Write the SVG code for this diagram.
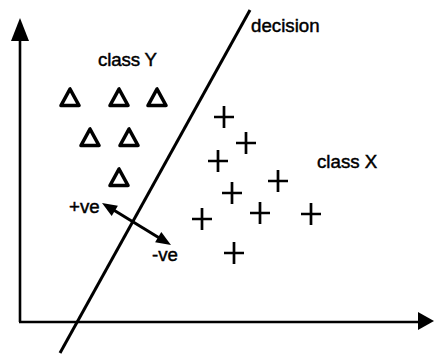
<svg xmlns="http://www.w3.org/2000/svg" width="434" height="356" viewBox="0 0 434 356">
<style>
.t{font-family:"Liberation Sans",Arial,sans-serif;font-size:18.7px;fill:#000;stroke:#000;stroke-width:0.45}
.ln{stroke:#000;fill:none}
.tri{stroke:#000;stroke-width:3.6;fill:none;stroke-linejoin:round}
.pl{stroke:#000;stroke-width:2.7;fill:none}
</style>
<defs>
<path id="tr" d="M0,-8 L-9,8.5 L9,8.5 Z"/>
<path id="pp" d="M-10,0 H10 M0,-11 V11"/>
</defs>
<rect width="434" height="356" fill="#fff"/>
<g id="axes">
<line class="ln" x1="20" y1="322" x2="20" y2="38" stroke-width="2.6"/>
<path d="M20,18 L29,41 L11,41 Z" fill="#000"/>
<line class="ln" x1="19" y1="322" x2="418" y2="322" stroke-width="2.6"/>
<path d="M434,321 L418,330 L418,312 Z" fill="#000"/>
</g>
<g id="decision">
<line class="ln" x1="250" y1="10" x2="60" y2="353" stroke-width="3"/>
<text class="t" x="251" y="32">decision</text>
</g>
<g id="classY">
<text class="t" x="98" y="66" textLength="59">class Y</text>
<use href="#tr" class="tri" x="70" y="97"/>
<use href="#tr" class="tri" x="119" y="97"/>
<use href="#tr" class="tri" x="157" y="97"/>
<use href="#tr" class="tri" x="90" y="137"/>
<use href="#tr" class="tri" x="129" y="137"/>
<use href="#tr" class="tri" x="119" y="177"/>
</g>
<g id="classX">
<text class="t" x="317" y="168">class X</text>
<use href="#pp" class="pl" x="224" y="117"/>
<use href="#pp" class="pl" x="246" y="143"/>
<use href="#pp" class="pl" x="218" y="161"/>
<use href="#pp" class="pl" x="278" y="181"/>
<use href="#pp" class="pl" x="232" y="193"/>
<use href="#pp" class="pl" x="202" y="219"/>
<use href="#pp" class="pl" x="260" y="213"/>
<use href="#pp" class="pl" x="311" y="214"/>
<use href="#pp" class="pl" x="234" y="253"/>
</g>
<g id="connectors">
<line x1="112" y1="209" x2="161" y2="239" stroke="#000" stroke-width="3"/>
<path d="M102,203 L111.7,215.9 L117.9,205.7 Z" fill="#000"/>
<path d="M171,245 L155.1,242.3 L161.3,232.1 Z" fill="#000"/>
<text class="t" x="69" y="213">+ve</text>
<text class="t" x="152" y="261">-ve</text>
</g>
</svg>
